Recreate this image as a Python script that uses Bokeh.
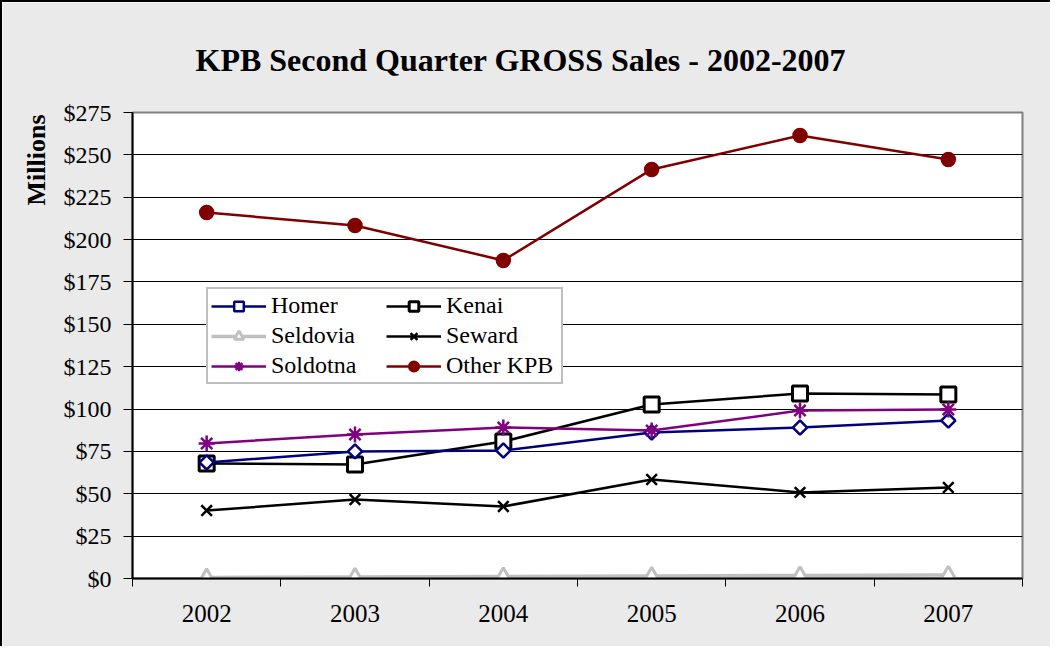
import math
from bokeh.plotting import figure
from bokeh.models import (Range1d, FixedTicker, NumeralTickFormatter, Legend, LegendItem,
                          Title, ColumnDataSource)
from bokeh.embed import file_html
from bokeh.resources import INLINE

years = ["2002", "2003", "2004", "2005", "2006", "2007"]
homer = [68.5, 75.0, 75.5, 86.2, 89.1, 93.2]
kenai = [67.9, 67.3, 80.8, 102.7, 109.2, 108.6]
seldovia = [0.6, 0.9, 1.2, 1.5, 1.8, 2.1]
seward = [40.1, 46.6, 42.5, 58.4, 50.8, 53.7]
soldotna = [79.7, 85.0, 89.1, 87.3, 99.1, 99.7]
other_kpb = [216.0, 208.3, 187.7, 241.4, 261.4, 247.3]
y_ticks = [0, 25, 50, 75, 100, 125, 150, 175, 200, 225, 250, 275]

SERIF = "Liberation Serif"
xpos = [i + 0.5 for i in range(len(years))]

p = figure(width=1050, height=646, output_backend="svg", toolbar_location=None,
           x_range=Range1d(0, len(years)), y_range=Range1d(0, 275),
           min_border_left=130, min_border_right=30, min_border_top=110, min_border_bottom=70)
p.background_fill_color = "white"
p.border_fill_color = "#EAEAEA"
p.outline_line_color = "#808080"
p.outline_line_width = 2
p.styles = {"border-left": "2px solid black", "border-top": "2px solid black"}

p.title = Title(text="KPB Second Quarter GROSS Sales - 2002-2007", align="left", offset=63,
                text_font=SERIF, text_font_size="32px", text_font_style="bold",
                text_color="black", standoff=70)

p.add_layout(Title(text="Millions", align="right", offset=2, text_font=SERIF,
                   text_font_size="26px", text_font_style="bold", text_color="black",
                   standoff=19), "left")

p.xgrid.visible = False
p.ygrid.ticker = FixedTicker(ticks=y_ticks)
p.ygrid.grid_line_color = "black"
p.ygrid.grid_line_width = 1

xa = p.xaxis[0]
xa.ticker = FixedTicker(ticks=xpos, minor_ticks=list(range(len(years) + 1)))
xa.major_label_overrides = {x: y for x, y in zip(xpos, years)}
xa.major_tick_out = 0
xa.major_tick_in = 0
xa.minor_tick_out = 8
xa.minor_tick_in = 0
xa.minor_tick_line_color = "black"
xa.axis_line_color = "black"
xa.axis_line_width = 2
xa.major_label_text_font = SERIF
xa.major_label_text_font_size = "25px"
xa.major_label_text_color = "black"
xa.major_label_standoff = 18

ya = p.yaxis[0]
ya.ticker = FixedTicker(ticks=y_ticks, minor_ticks=[])
ya.formatter = NumeralTickFormatter(format="$0")
ya.major_tick_out = 9
ya.major_tick_in = 0
ya.axis_line_color = "black"
ya.axis_line_width = 2
ya.major_label_text_font = SERIF
ya.major_label_text_font_size = "24px"
ya.major_label_text_color = "black"
ya.major_label_standoff = 12

src = ColumnDataSource(dict(x=xpos, homer=homer, kenai=kenai, seldovia=seldovia,
                            seward=seward, soldotna=soldotna, other=other_kpb))

def series(col, name, color, marker, size, fill, lw=2.5, mlw=2.5, angle=0.0):
    r1 = p.line("x", col, source=src, line_color=color, line_width=lw)
    r2 = p.scatter("x", col, source=src, marker=marker, size=size, line_color=color,
                   fill_color=fill, line_width=mlw, angle=angle)
    return LegendItem(label=name, renderers=[r1, r2])

it_sel = series("seldovia", "Seldovia", "#C0C0C0", "triangle", 15, "white", lw=3.5, mlw=3)
it_sew = series("seward", "Seward", "black", "x", 15, None)
it_ken = series("kenai", "Kenai", "black", "square", 15, "white", mlw=3)
it_hom = series("homer", "Homer", "#000080", "square", 10, "white", angle=math.pi / 4)
it_sol = series("soldotna", "Soldotna", "#800080", "asterisk", 16, None)
it_oth = series("other", "Other KPB", "#800000", "circle", 13, "#800000")

legend = Legend(items=[it_hom, it_sel, it_sol, it_ken, it_sew, it_oth], ncols=2,
                location=(74, 194), label_text_font=SERIF, label_text_font_size="24px",
                label_text_color="black",
                glyph_width=55, glyph_height=24, label_standoff=5, spacing=3,
                padding=3, margin=0, border_line_color="#808080", border_line_width=2,
                background_fill_color="white", background_fill_alpha=1.0,
                label_height=24, label_width=112)
p.add_layout(legend, "center")

open("out.html", "w").write(file_html(p, INLINE))
